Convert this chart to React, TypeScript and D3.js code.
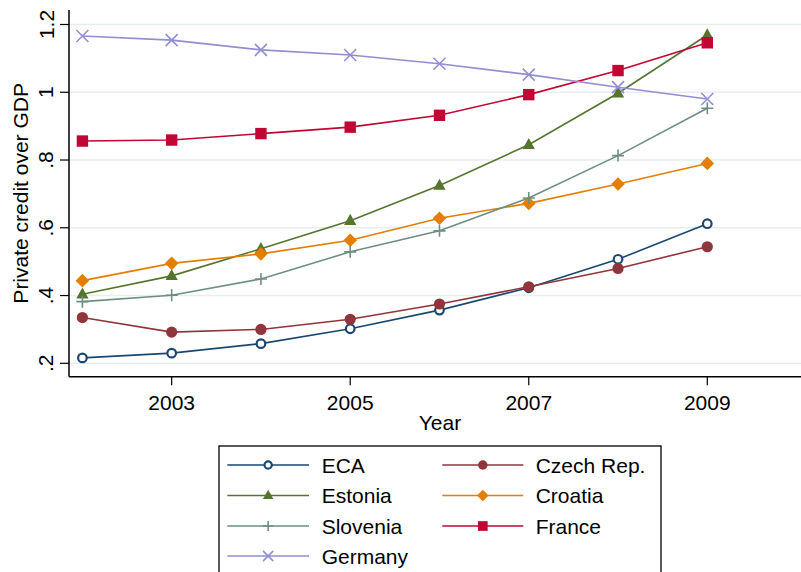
import React from "react";
import * as d3 from "d3";

// Years on the x axis
const years = [2002, 2003, 2004, 2005, 2006, 2007, 2008, 2009];

// Private credit over GDP, by country / region
const eca = [0.216, 0.23, 0.258, 0.302, 0.357, 0.423, 0.507, 0.612];
const czech = [0.335, 0.292, 0.3, 0.33, 0.375, 0.426, 0.48, 0.544];
const estonia = [0.404, 0.458, 0.538, 0.621, 0.725, 0.845, 0.997, 1.169];
const croatia = [0.444, 0.495, 0.523, 0.563, 0.628, 0.672, 0.729, 0.79];
const slovenia = [0.382, 0.401, 0.449, 0.529, 0.591, 0.688, 0.813, 0.953];
const france = [0.856, 0.859, 0.878, 0.897, 0.932, 0.993, 1.064, 1.146];
const germany = [1.166, 1.154, 1.125, 1.11, 1.084, 1.052, 1.015, 0.98];

const yTicks = [0.2, 0.4, 0.6, 0.8, 1.0, 1.2];
const yTickLabels = [".2", ".4", ".6", ".8", "1", "1.2"];
const xTicks = [2003, 2005, 2007, 2009];

type Marker = "ocircle" | "circle" | "triangle" | "diamond" | "plus" | "square" | "x";

const series: { name: string; values: number[]; color: string; marker: Marker }[] = [
  { name: "ECA", values: eca, color: "#1a476f", marker: "ocircle" },
  { name: "Czech Rep.", values: czech, color: "#90353b", marker: "circle" },
  { name: "Estonia", values: estonia, color: "#55752f", marker: "triangle" },
  { name: "Croatia", values: croatia, color: "#e37e00", marker: "diamond" },
  { name: "Slovenia", values: slovenia, color: "#6e8e84", marker: "plus" },
  { name: "France", values: france, color: "#c10534", marker: "square" },
  { name: "Germany", values: germany, color: "#938dd2", marker: "x" },
];

const W = 801;
const H = 572;
const plotLeft = 69;
const plotRight = 801;
const plotTop = 10;
const plotBottom = 376.7;

const x = d3.scaleLinear().domain([2002, 2009]).range([82.4, 707.3]);
const y = d3.scaleLinear().domain([0.2, 1.2]).range([363.3, 24.5]);

const FONT = "'Liberation Sans', Arial, sans-serif";
const FS = 21;

function MarkerShape({ type, cx, cy, color, legend }: { type: Marker; cx: number; cy: number; color: string; legend?: boolean }) {
  const s = legend ? 0.85 : 1;
  switch (type) {
    case "ocircle":
      return <circle cx={cx} cy={cy} r={4.3 * s} fill="white" stroke={color} strokeWidth={2.2} />;
    case "circle":
      return <circle cx={cx} cy={cy} r={5.6 * s} fill={color} />;
    case "triangle": {
      const r = 6.8 * s;
      const p = d3.path();
      p.moveTo(cx, cy - r);
      p.lineTo(cx + r * 0.9, cy + r * 0.62);
      p.lineTo(cx - r * 0.9, cy + r * 0.62);
      p.closePath();
      return <path d={p.toString()} fill={color} />;
    }
    case "diamond": {
      const r = 6.8 * s;
      const p = d3.path();
      p.moveTo(cx, cy - r);
      p.lineTo(cx + r, cy);
      p.lineTo(cx, cy + r);
      p.lineTo(cx - r, cy);
      p.closePath();
      return <path d={p.toString()} fill={color} />;
    }
    case "square": {
      const h = 5.7 * s;
      return <rect x={cx - h} y={cy - h} width={2 * h} height={2 * h} fill={color} />;
    }
    case "plus": {
      const h = 6 * s;
      return (
        <path
          d={`M${cx - h},${cy}H${cx + h}M${cx},${cy - h}V${cy + h}`}
          stroke={color}
          strokeWidth={1.6}
          fill="none"
        />
      );
    }
    case "x": {
      const h = 6 * s;
      return (
        <path
          d={`M${cx - h},${cy - h}L${cx + h},${cy + h}M${cx - h},${cy + h}L${cx + h},${cy - h}`}
          stroke={color}
          strokeWidth={1.6}
          fill="none"
        />
      );
    }
  }
  return null;
}

export default function App() {
  const line = d3
    .line<number>()
    .x((_, i) => x(years[i]))
    .y((d) => y(d));

  // legend layout: two columns, rows filled left to right
  const legendRowY = [465, 495.5, 526, 556];
  const colLineX = [
    [227.3, 309],
    [442.3, 523.3],
  ];
  const colTextX = [321.7, 535.7];

  return (
    <svg
      width={W}
      height={H}
      viewBox={`0 0 ${W} ${H}`}
      style={{ position: "absolute", left: 0, top: 0, background: "white" }}
      fontFamily={FONT}
    >
      <rect x={0} y={0} width={W} height={H} fill="white" />

      {/* gridlines */}
      {yTicks.map((t) => (
        <line key={t} x1={plotLeft} x2={plotRight} y1={y(t)} y2={y(t)} stroke="#e6eef0" strokeWidth={1.5} />
      ))}

      {/* series lines */}
      {series.map((s) => (
        <path key={s.name} d={line(s.values) || ""} fill="none" stroke={s.color} strokeWidth={1.6} />
      ))}

      {/* markers */}
      {series.map((s) => (
        <g key={s.name + "-m"}>
          {s.values.map((v, i) => (
            <MarkerShape key={i} type={s.marker} cx={x(years[i])} cy={y(v)} color={s.color} />
          ))}
        </g>
      ))}

      {/* y axis */}
      <line x1={plotLeft} x2={plotLeft} y1={plotTop} y2={plotBottom} stroke="black" strokeWidth={1.5} />
      {yTicks.map((t, i) => (
        <g key={"yt" + t}>
          <line x1={plotLeft - 9} x2={plotLeft} y1={y(t)} y2={y(t)} stroke="black" strokeWidth={1.2} />
          <text
            x={53.5}
            y={y(t)}
            transform={`rotate(-90, 53.5, ${y(t)})`}
            textAnchor="middle"
            fontSize={FS}
            fill="black"
          >
            {yTickLabels[i]}
          </text>
        </g>
      ))}
      <text
        x={28.5}
        y={(plotTop + plotBottom) / 2}
        transform={`rotate(-90, 28.5, ${(plotTop + plotBottom) / 2})`}
        textAnchor="middle"
        fontSize={FS}
        fill="black"
      >
        Private credit over GDP
      </text>

      {/* x axis */}
      <line x1={plotLeft} x2={plotRight} y1={plotBottom} y2={plotBottom} stroke="black" strokeWidth={1.5} />
      {xTicks.map((t) => (
        <g key={"xt" + t}>
          <line x1={x(t)} x2={x(t)} y1={plotBottom} y2={plotBottom + 8.5} stroke="black" strokeWidth={1.2} />
          <text x={x(t)} y={410} textAnchor="middle" fontSize={FS} fill="black">
            {t}
          </text>
        </g>
      ))}
      <text x={440} y={430} textAnchor="middle" fontSize={FS} fill="black">
        Year
      </text>

      {/* legend */}
      <rect x={219} y={446} width={442} height={150} fill="white" stroke="black" strokeWidth={1.3} />
      {series.map((s, i) => {
        const col = i % 2;
        const row = Math.floor(i / 2);
        const cy = legendRowY[row];
        const [lx1, lx2] = colLineX[col];
        return (
          <g key={s.name + "-leg"}>
            <line x1={lx1} x2={lx2} y1={cy} y2={cy} stroke={s.color} strokeWidth={1.6} />
            <MarkerShape type={s.marker} cx={(lx1 + lx2) / 2} cy={cy} color={s.color} legend />
            <text x={colTextX[col]} y={cy + 7.6} fontSize={FS} fill="black">
              {s.name}
            </text>
          </g>
        );
      })}
    </svg>
  );
}
